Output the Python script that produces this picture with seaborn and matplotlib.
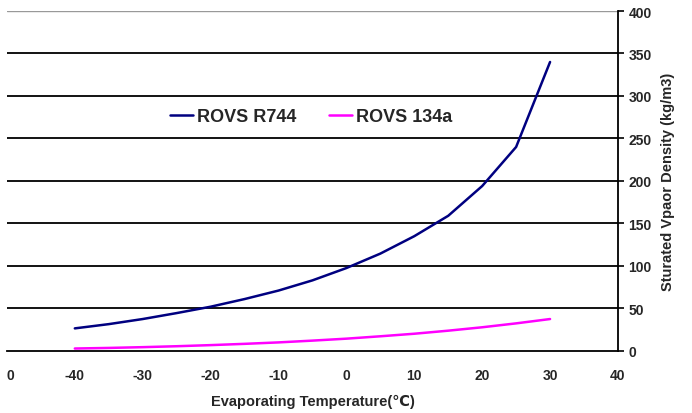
import pandas as pd
import numpy as np
import matplotlib.pyplot as plt
import seaborn as sns

# =========================
# DATA
# =========================

temps = [-40, -35, -30, -25, -20, -15, -10, -5, 0, 5, 10, 15, 20, 25, 30]
r744 = [26.5, 31.5, 37.5, 44.5, 52, 61, 71, 83, 97.5, 114.5, 135, 159, 194, 240, 340]
r134a = [2.8, 3.5, 4.4, 5.5, 6.8, 8.3, 10.0, 12.1, 14.4, 17.2, 20.2, 23.8, 27.8, 32.4, 37.5]
series_names = ["ROVS R744", "ROVS 134a"]
colors = ["#000080", "#FF00FF"]

x_ticks = [-50, -40, -30, -20, -10, 0, 10, 20, 30, 40]
x_tick_labels = ["0", "-40", "-30", "-20", "-10", "0", "10", "20", "30", "40"]
y_ticks = [0, 50, 100, 150, 200, 250, 300, 350, 400]

df = pd.DataFrame({
    "temp": temps * 2,
    "density": r744 + r134a,
    "series": [series_names[0]] * len(temps) + [series_names[1]] * len(temps),
})

# =========================
# PLOT
# =========================

sns.set_style("white")
plt.rcParams['font.family'] = ['Liberation Sans', 'DejaVu Sans']

fig = plt.figure(figsize=(6.92, 4.14), dpi=100)
ax = fig.add_axes([0.010, 0.150, 0.883, 0.821])

# horizontal grid lines
for y in y_ticks[1:-1]:
    ax.axhline(y, color="black", lw=1.3, zorder=1)
ax.axhline(400, color="#999999", lw=1.0, zorder=1)

sns.lineplot(
    data=df,
    x="temp",
    y="density",
    hue="series",
    palette=colors,
    lw=1.8,
    ax=ax,
    zorder=3,
)

ax.set_xlim(-50, 40)
ax.set_ylim(0, 400)

for side in ["top", "left"]:
    ax.spines[side].set_visible(False)
ax.spines["right"].set_color("black")
ax.spines["right"].set_linewidth(1.3)
ax.spines["bottom"].set_color("black")
ax.spines["bottom"].set_linewidth(1.3)

ax.yaxis.tick_right()
ax.yaxis.set_label_position("right")
ax.set_yticks(y_ticks)
ax.set_yticklabels([str(v) for v in y_ticks], fontsize=10, fontweight="bold")
ax.set_xticks(x_ticks)
ax.set_xticklabels(x_tick_labels, fontsize=10, fontweight="bold")
ax.tick_params(axis="both", direction="out", length=4, width=1.2, color="black")
ax.tick_params(axis="x", pad=8)

# left-most label sits a little right of its tick (clipped "-50" in the source)
first = ax.get_xticklabels()[0]
first.set_horizontalalignment("left")

ax.set_xlabel("Evaporating Temperature(℃)", fontsize=10.5, fontweight="bold", labelpad=9)
ax.set_ylabel("Sturated Vpaor Density (kg/m3)", fontsize=10.5, fontweight="bold", labelpad=7)

ax.legend(
    loc="center left",
    bbox_to_anchor=(0.24, 0.69),
    ncol=2,
    frameon=False,
    handlelength=1.3,
    handletextpad=0.2,
    columnspacing=1.8,
    prop={"size": 13, "weight": "bold"},
)

plt.savefig("out.png", dpi=100)
